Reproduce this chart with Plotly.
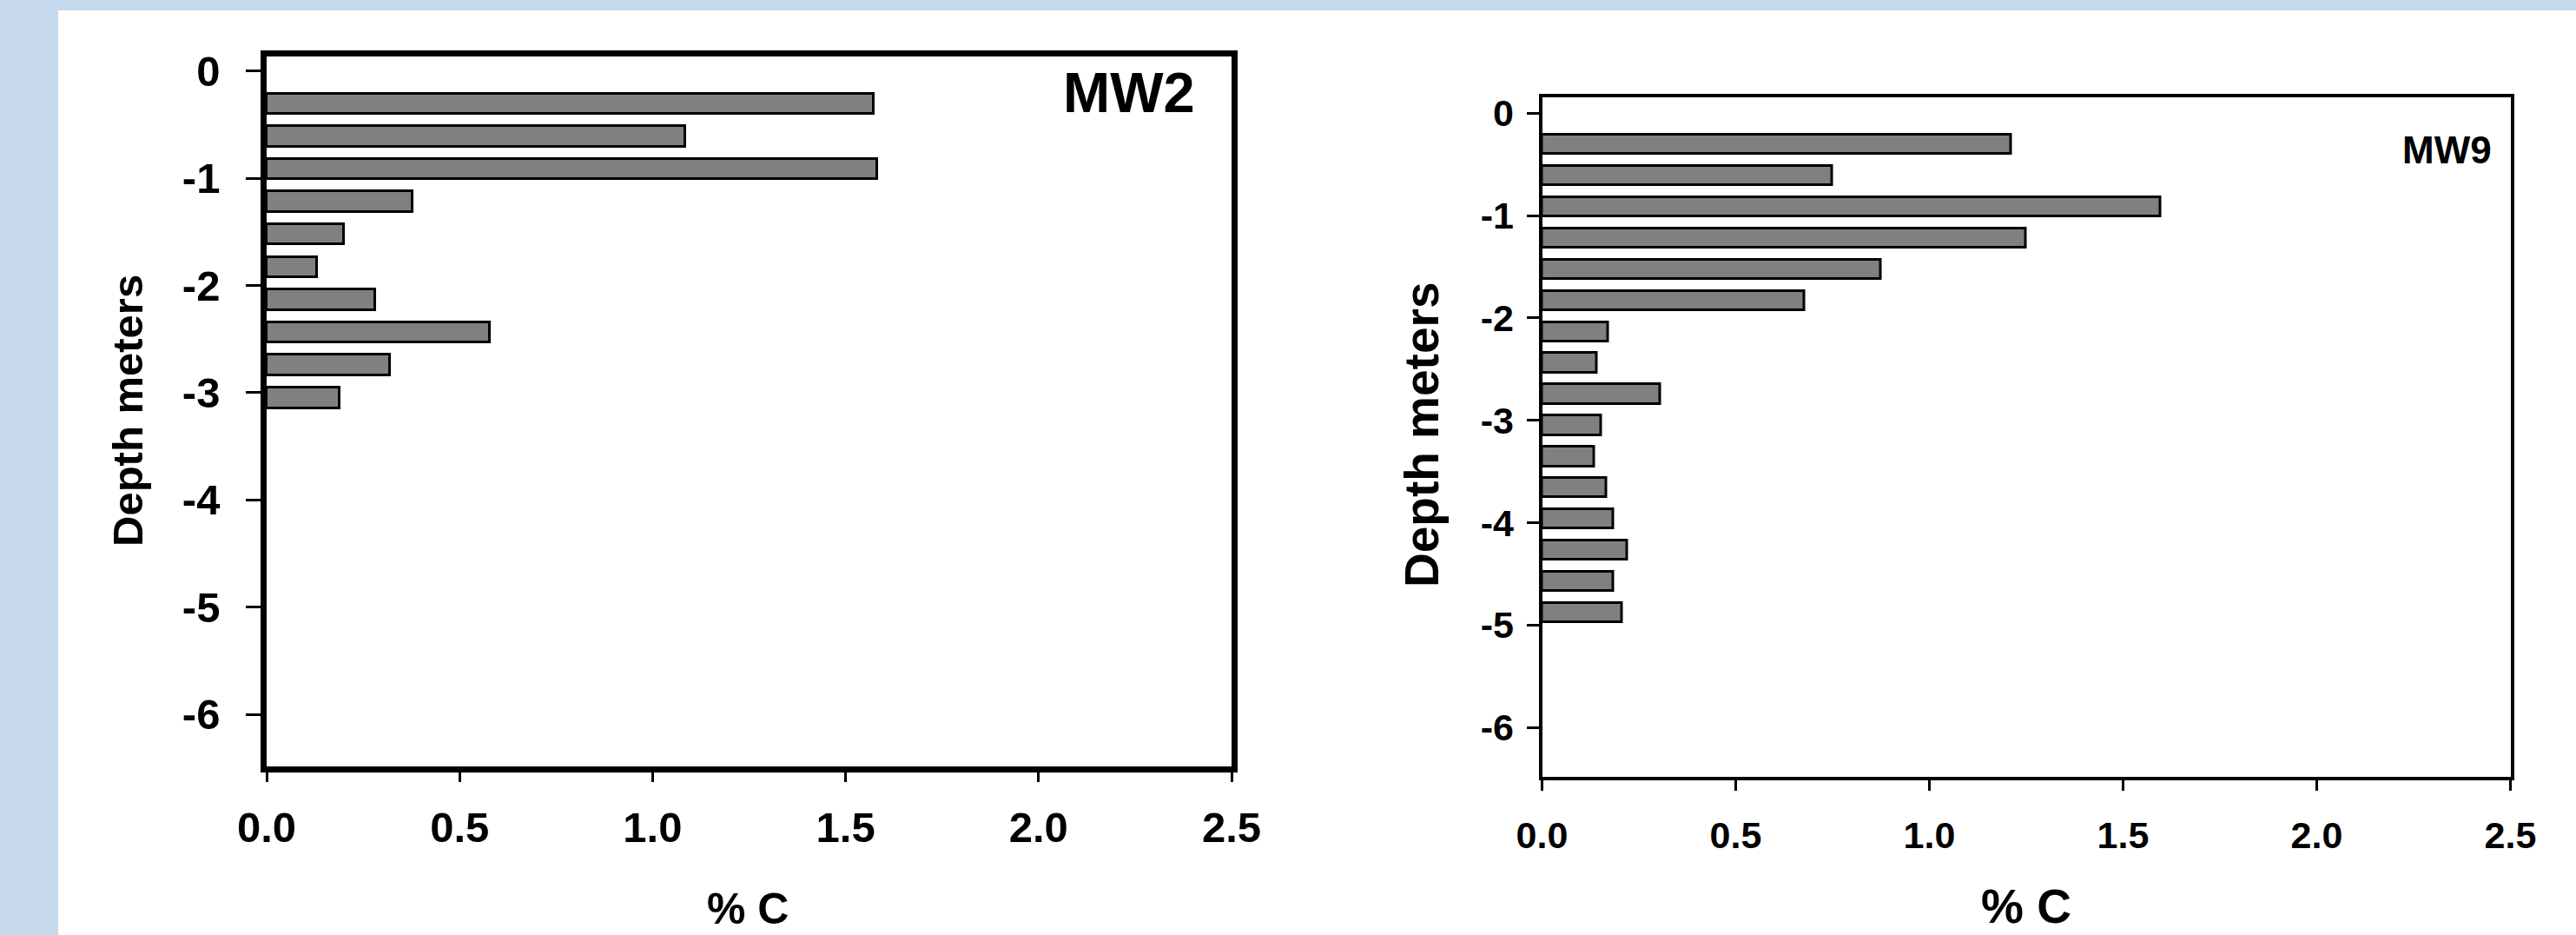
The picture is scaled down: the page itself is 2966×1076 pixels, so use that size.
import plotly.graph_objects as go

# ---- data ----
FT = 0.3048  # sample spacing: one foot, in metres
mw2_depth = [-FT * k for k in range(1, 11)]
mw2_pct_c = [1.574, 1.085, 1.581, 0.379, 0.201, 0.131, 0.282, 0.578, 0.320, 0.189]

mw9_depth = [-FT * k for k in range(1, 17)]
mw9_pct_c = [1.211, 0.748, 1.596, 1.249, 0.875, 0.676, 0.171, 0.142, 0.304,
             0.152, 0.135, 0.167, 0.184, 0.220, 0.184, 0.207]

x_ticks = [0.0, 0.5, 1.0, 1.5, 2.0, 2.5]
x_tick_labels = ["0.0", "0.5", "1.0", "1.5", "2.0", "2.5"]
y_ticks = [0, -1, -2, -3, -4, -5, -6]
y_tick_labels = ["0", "-1", "-2", "-3", "-4", "-5", "-6"]

W, H = 2966, 1076
FONT = "Liberation Sans, Arial, sans-serif"


def px_x(p):
    return p / W


def px_y(p):
    return 1 - p / H


fig = go.Figure()

fig.add_trace(go.Bar(
    x=mw2_pct_c, y=mw2_depth, orientation="h", width=0.19,
    marker=dict(color="#808080", line=dict(color="black", width=3)),
    xaxis="x", yaxis="y", showlegend=False,
))
fig.add_trace(go.Bar(
    x=mw9_pct_c, y=mw9_depth, orientation="h", width=0.19,
    marker=dict(color="#808080", line=dict(color="black", width=3)),
    xaxis="x2", yaxis="y2", showlegend=False,
))

common_x = dict(
    range=[0, 2.5], tickvals=x_ticks, ticktext=x_tick_labels,
    showgrid=False, zeroline=False, showline=True, linecolor="black",
    mirror=True, ticks="outside", tickcolor="black", tickwidth=3,
    automargin=False,
)
common_y = dict(
    tickvals=y_ticks, ticktext=y_tick_labels,
    showgrid=False, zeroline=False, showline=True, linecolor="black",
    mirror=True, ticks="outside", tickcolor="black", tickwidth=3,
    automargin=False,
)

fig.update_layout(
    width=W, height=H,
    margin=dict(l=0, r=0, t=0, b=0, pad=0, autoexpand=False),
    showlegend=False,
    paper_bgcolor="#c5d8ec",
    plot_bgcolor="white",
    bargap=0,
    xaxis=dict(
        **common_x, domain=[px_x(307), px_x(1418)], anchor="y",
        linewidth=6.5, ticklen=12,
        tickfont=dict(family=FONT, size=49, color="black", weight="bold"),
        ticklabelstandoff=10,
    ),
    yaxis=dict(
        **common_y, domain=[px_y(881.7), px_y(65)], anchor="x",
        range=[-6.483, 0.135], linewidth=6.5, ticklen=17,
        tickfont=dict(family=FONT, size=49, color="black", weight="bold"),
        ticklabelstandoff=20,
    ),
    xaxis2=dict(
        **common_x, domain=[px_x(1775.5), px_x(2890.5)], anchor="y2",
        linewidth=4, ticklen=12,
        tickfont=dict(family=FONT, size=43, color="black", weight="bold"),
        ticklabelstandoff=15,
    ),
    yaxis2=dict(
        **common_y, domain=[px_y(893.5), px_y(112)], anchor="x2",
        range=[-6.478, 0.156], linewidth=4, ticklen=14,
        tickfont=dict(family=FONT, size=43, color="black", weight="bold"),
        ticklabelstandoff=6,
    ),
    shapes=[dict(
        type="rect", xref="paper", yref="paper", layer="below",
        x0=px_x(67), x1=1.0, y0=0.0, y1=px_y(12),
        fillcolor="white", line=dict(width=0),
    )],
)

ann = [
    dict(text="MW2", x=px_x(1378), y=px_y(106), xanchor="right", yanchor="middle",
         font=dict(family=FONT, size=65, color="black", weight="bold")),
    dict(text="MW9", x=px_x(2817), y=px_y(173), xanchor="center", yanchor="middle",
         font=dict(family=FONT, size=44, color="black", weight="bold")),
    dict(text="Depth meters", x=px_x(147), y=px_y(473), textangle=-90,
         xanchor="center", yanchor="middle",
         font=dict(family=FONT, size=49, color="black", weight="bold")),
    dict(text="Depth meters", x=px_x(1637), y=px_y(501), textangle=-90,
         xanchor="center", yanchor="middle",
         font=dict(family=FONT, size=55, color="black", weight="bold")),
    dict(text="% C", x=px_x(861), y=px_y(1046), xanchor="center", yanchor="middle",
         font=dict(family=FONT, size=50, color="black", weight="bold")),
    dict(text="% C", x=px_x(2333), y=px_y(1043), xanchor="center", yanchor="middle",
         font=dict(family=FONT, size=55, color="black", weight="bold")),
]
for a in ann:
    a.update(xref="paper", yref="paper", showarrow=False)
fig.update_layout(annotations=ann)

fig.write_html(
    "out.html",
    config={"displayModeBar": False},
    post_script="document.body.style.margin='0';document.body.style.overflow='hidden';",
)
